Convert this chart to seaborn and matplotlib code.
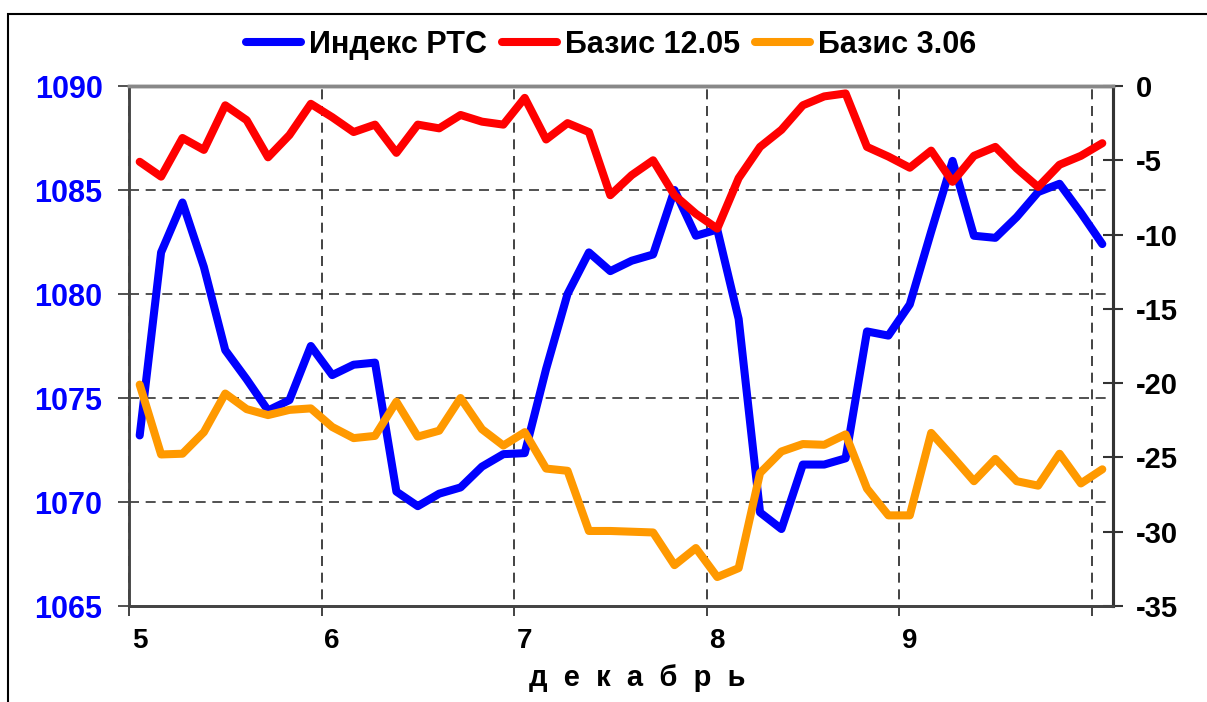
import numpy as np
import pandas as pd
import matplotlib
matplotlib.use("Agg")
import matplotlib.pyplot as plt
import seaborn as sns
from matplotlib.patches import Rectangle

# ==========================================================
# Data (hourly slots, 9 per trading day, 5-10 December)
# ==========================================================
day_labels = ["5", "6", "7", "8", "9"]
slots_per_day = 9

rts_index = [
    1073.2, 1082.0, 1084.4, 1081.3, 1077.3, 1075.9, 1074.4, 1074.9, 1077.5,
    1076.1, 1076.6, 1076.7, 1070.5, 1069.8, 1070.4, 1070.7, 1071.7, 1072.3,
    1072.35, 1076.4, 1080.0, 1082.0, 1081.1, 1081.6, 1081.9, 1085.0, 1082.8,
    1083.1, 1078.8, 1069.5, 1068.7, 1071.8, 1071.8, 1072.1, 1078.2, 1078.0,
    1079.5, 1083.0, 1086.4, 1082.8, 1082.7, 1083.7, 1084.9, 1085.3, 1083.9,
    1082.4,
]

basis_1205 = [
    -5.1, -6.1, -3.5, -4.3, -1.3, -2.3, -4.8, -3.3, -1.2,
    -2.1, -3.1, -2.6, -4.5, -2.6, -2.85, -1.95, -2.4, -2.6,
    -0.8, -3.6, -2.5, -3.1, -7.35, -6.0, -5.0, -7.35, -8.6,
    -9.6, -6.2, -4.1, -2.95, -1.3, -0.7, -0.5, -4.1, -4.75,
    -5.5, -4.35, -6.45, -4.7, -4.1, -5.55, -6.8, -5.3, -4.7,
    -3.85,
]

basis_306 = [
    -20.1, -24.8, -24.75, -23.3, -20.7, -21.75, -22.15, -21.8, -21.7,
    -22.95, -23.7, -23.55, -21.25, -23.6, -23.2, -21.0, -23.1, -24.2,
    -23.3, -25.75, -25.9, -29.95, -29.95, -30.0, -30.05, -32.25, -31.1,
    -33.05, -32.45, -26.05, -24.6, -24.1, -24.15, -23.45, -27.1, -28.9,
    -28.9, -23.35, -24.95, -26.6, -25.1, -26.6, -26.9, -24.75, -26.75,
    -25.8,
]

df = pd.DataFrame({
    "slot": np.arange(len(rts_index)),
    "rts": rts_index,
    "b1205": basis_1205,
    "b306": basis_306,
})

# ==========================================================
# Style
# ==========================================================
sns.set_style("white")
plt.rcParams["font.family"] = ["Liberation Sans", "DejaVu Sans"]
plt.rcParams["font.weight"] = "bold"
plt.rcParams["text.color"] = "black"
plt.rcParams["axes.unicode_minus"] = False

W, H = 1207, 702
fig = plt.figure(figsize=(W / 100, H / 100), dpi=100)
ax = fig.add_axes([129 / W, 1 - 606 / H, (1113 - 129) / W, (606 - 86) / H])
ax2 = ax.twinx()

line_kw = dict(linewidth=5.8, solid_capstyle="round", solid_joinstyle="round")

sns.lineplot(data=df, x="slot", y="rts", ax=ax, color="#0000FF",
             label="Индекс РТС", legend=False, **line_kw)
sns.lineplot(data=df, x="slot", y="b1205", ax=ax2, color="#FF0000",
             label="Базис 12.05", legend=False, **line_kw)
sns.lineplot(data=df, x="slot", y="b306", ax=ax2, color="#FF9900",
             label="Базис 3.06", legend=False, **line_kw)

n = len(rts_index)
ax.set_xlim(-0.5, n - 0.5)
ax.set_ylim(1065, 1090)
ax2.set_ylim(-35, 0)

# ==========================================================
# Grid
# ==========================================================
for yv in [1070, 1075, 1080, 1085]:
    ax.axhline(yv, color="#333333", lw=1.2, ls=(0, (6, 4)), zorder=0)
for k in range(len(day_labels) + 1):
    ax.axvline(k * slots_per_day - 0.5, ymin=-0.02, ymax=1, clip_on=False,
               color="#222222", lw=1.2, ls=(0, (6, 4)), zorder=0)

# ==========================================================
# Axes and ticks
# ==========================================================
ax.set_xticks([k * slots_per_day for k in range(len(day_labels))])
ax.set_xticklabels(day_labels)
ax.tick_params(axis="x", length=0, pad=16, labelsize=20, labelcolor="black")
ax.set_yticks([1065, 1070, 1075, 1080, 1085, 1090])
ax.tick_params(axis="y", direction="out", length=8, width=1.2, color="#333333",
               pad=11, labelsize=22, labelcolor="#0000FF")
ax2.set_yticks([0, -5, -10, -15, -20, -25, -30, -35])
ax2.tick_params(axis="y", direction="inout", length=15, width=1.5, color="#333333",
                pad=9, labelsize=21, labelcolor="black")
for lab in ax.get_yticklabels() + ax2.get_yticklabels() + ax.get_xticklabels():
    lab.set_fontweight("bold")

ax.set_xlabel("д  е  к  а  б  р  ь", fontsize=21, fontweight="bold", color="black")
ax.xaxis.set_label_coords(0.517, -0.112)
ax.set_ylabel("")
ax2.set_ylabel("")

for a in (ax, ax2):
    a.spines["top"].set_color("#888888")
    a.spines["top"].set_linewidth(2.5)
    a.spines["left"].set_color("#444444")
    a.spines["left"].set_linewidth(1.8)
    a.spines["bottom"].set_color("#444444")
    a.spines["bottom"].set_linewidth(2)
    a.spines["right"].set_color("#333333")
    a.spines["right"].set_linewidth(2.2)

# ==========================================================
# Legend
# ==========================================================
h1, l1 = ax.get_legend_handles_labels()
h2, l2 = ax2.get_legend_handles_labels()
fig.legend(h1 + h2, l1 + l2, loc="center", bbox_to_anchor=(611 / W, 1 - 45 / H),
           ncol=3, frameon=False, handlelength=1.8,
           handletextpad=0.25, columnspacing=0.5, borderaxespad=0,
           prop={"weight": "bold", "size": 22})

# chart frame
fig.add_artist(Rectangle((8 / W, -0.1), 1.2, 1.1 - 14 / H, transform=fig.transFigure,
                         fill=False, edgecolor="black", lw=1.5))

fig.savefig("out.png", dpi=100)
